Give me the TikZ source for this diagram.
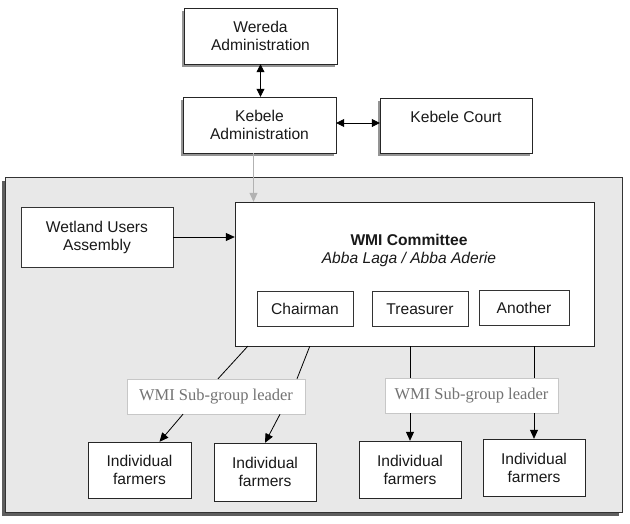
\documentclass[tikz,border=0pt]{standalone}
\usepackage{fontspec}
\setmainfont{Liberation Sans}
\newfontfamily\leaderfont{Liberation Serif}
\usepackage{tikz}
\usetikzlibrary{arrows.meta,positioning,shadows}
\usepackage{xcolor}

\begin{document}
\begin{tikzpicture}[
      x=1pt, y=-1pt,
      every node/.style={font=\fontsize{15.6}{18}\selectfont, text=black!90},
      adminbox/.style={
        rectangle, draw=black!85, fill=white, align=center,
        minimum width=153pt, minimum height=56pt,
        drop shadow={shadow xshift=-2.5pt, shadow yshift=-3pt, fill=black!60, opacity=.7}
      },
      panelbox/.style={
        rectangle, draw=black!80, fill=black!9,
        minimum width=617pt, minimum height=335pt,
        drop shadow={shadow xshift=-3.5pt, shadow yshift=-3.5pt, fill=black!70, opacity=.9}
      },
      userbox/.style={
        rectangle, draw=black!80, fill=white, align=center,
        minimum width=152pt, minimum height=60pt
      },
      rolebox/.style={
        rectangle, draw=black!80, fill=white, align=center,
        minimum height=35pt
      },
      leaderbox/.style={
        rectangle, draw=black!22, fill=white, text=black!55,
        minimum height=35pt, font=\leaderfont\fontsize{16.5}{18}\selectfont
      },
      farmbox/.style={
        rectangle, draw=black!85, fill=white, align=center,
        minimum width=102pt, minimum height=57pt
      },
      arr/.style={-{Triangle[length=9pt,width=8pt]}, thick},
      darr/.style={{Triangle[length=8pt,width=8pt]}-{Triangle[length=8pt,width=8pt]}, thick},
      garr/.style={-{Triangle[length=9pt,width=8pt]}, black!30, thick}
    ]
    \useasboundingbox (0,0) rectangle (630,523);

    % ===== Top: administration =====
    \node[adminbox] (wereda) at (260.5, 36) {Wereda\\ Administration};
    \node[adminbox] (kebele) at (259.5, 125) {Kebele\\ Administration};
    \node[adminbox, minimum width=152pt, minimum height=55pt] (court) at (456, 125.5) {Kebele Court\\ \mbox{}};

    % ===== The grey panel with the committee =====
    \node[panelbox] (panel) at (313.5, 344.5) {};
    \node[userbox] (users) at (97, 237) {Wetland Users\\ Assembly};
    \node[rectangle, draw=black!85, fill=white, minimum width=359pt, minimum height=144pt]
      (committee) at (414.5, 274) {};
    \node[align=center] (title) at (409, 250)
      {\textbf{WMI Committee}\\ \textit{Abba Laga / Abba Aderie}};
    \node[rolebox, minimum width=96pt] (chair) at (305, 308.5) {Chairman};
    \node[rolebox, minimum width=96pt] (treas) at (420, 309) {Treasurer};
    \node[rolebox, minimum width=90pt] (other) at (524, 307.5) {Another};

    % ===== Sub-group leaders and farmers =====
    \node[leaderbox, minimum width=178pt] (sgl) at (216, 396.5) {WMI Sub-group leader};
    \node[leaderbox, minimum width=173pt] (sgr) at (471.5, 395.5) {WMI Sub-group leader};
    \node[farmbox, minimum width=103pt, minimum height=56pt] (f1) at (139.5, 470) {Individual\\ farmers};
    \node[farmbox, minimum height=58pt] (f2) at (265, 472) {Individual\\ farmers};
    \node[farmbox] (f3) at (410, 469.5) {Individual\\ farmers};
    \node[farmbox] (f4) at (534, 467.5) {Individual\\ farmers};

    % ===== Arrows: administration =====
    \draw[darr] (wereda.south) -- (wereda.south |- kebele.north);
    \draw[darr] ([yshift=2pt]kebele.east) -- ([yshift=2pt]kebele.east -| court.west);
    \draw[garr] ([xshift=-6pt]kebele.south) -- ([xshift=-6pt]kebele.south |- committee.north);
    \draw[arr] (users.east) -- (users.east -| committee.west);

    % ===== Lines: committee to sub-group leaders to farmers =====
    \draw[thick] ([xshift=13pt]committee.south west) -- ([xshift=2pt]sgl.north);
    \draw[thick] ([xshift=75pt]committee.south west) -- ([xshift=81pt]sgl.north);
    \draw[arr] ([xshift=-33pt]sgl.south) -- ([xshift=20pt]f1.north);
    \draw[arr] ([xshift=64pt]sgl.south) -- (f2.north);
    \draw[thick] (f3.north |- committee.south) -- (f3.north |- sgr.north);
    \draw[thick] (f4.north |- committee.south) -- (f4.north |- sgr.north);
    \draw[arr] (f3.north |- sgr.south) -- (f3.north);
    \draw[arr] (f4.north |- sgr.south) -- (f4.north);
  \end{tikzpicture}
\end{document}
